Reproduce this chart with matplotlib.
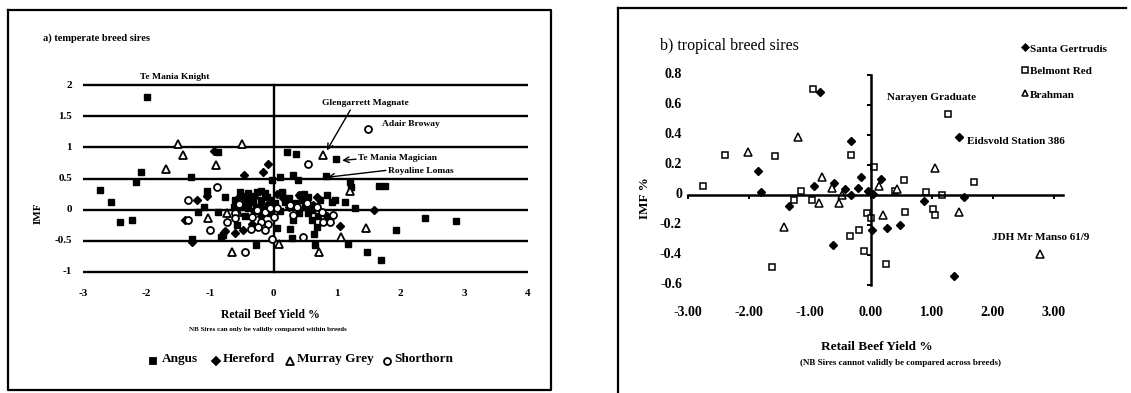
import matplotlib
matplotlib.use("Agg")
import matplotlib.pyplot as plt
import matplotlib.transforms as mtrans
from matplotlib.lines import Line2D

# ---------------- data: temperate breed sires ----------------
angus_x = [-2.00, -2.08, -2.17, -2.73, -2.56, -2.41, -2.23, -1.30, -0.87, -1.05,
           -0.77, -1.10, -1.19, -0.88, -1.29, -0.80, -0.82, -0.58, -0.28, -0.03,
           0.21, 0.36, 0.31, 0.39, 0.10, 0.14, 0.83, 0.98, 1.21, 1.22,
           1.66, 1.75, 1.13, 1.28, 1.93, 2.39, 2.87, 1.47, 1.70, 1.18,
           0.65, 0.63, 0.68, 0.26, 0.29, 0.60, 0.60, 0.73, 0.84, 0.97,
           0.92, 0.42, 0.55, 0.13, -0.53, -0.40, -0.26, -0.13, -0.45, -0.32,
           -0.19, -0.06, -0.53, -0.40, -0.28, -0.15, -0.05, 0.05, -0.45, 0.31,
           0.50, 0.35, -0.60, -0.35, 0.70, -0.50, -0.38, -0.22, -0.10, 0.02,
           0.18, 0.25, 0.45, 0.55, -0.30, -0.48, -0.20, 0.10, 0.40, 0.48,
           -0.62]
angus_y = [1.80, 0.61, 0.44, 0.32, 0.12, -0.20, -0.16, 0.53, 0.92, 0.30,
           0.21, 0.05, -0.04, -0.04, -0.47, -0.40, -0.44, -0.25, -0.57, 0.48,
           0.93, 0.89, 0.55, 0.47, 0.52, 0.28, 0.54, 0.81, 0.44, 0.37,
           0.38, 0.38, 0.12, 0.02, -0.32, -0.13, -0.18, -0.68, -0.80, -0.55,
           -0.57, -0.39, -0.28, -0.31, -0.45, -0.17, -0.01, 0.15, 0.23, 0.15,
           0.12, 0.23, 0.20, 0.26, 0.28, 0.26, 0.28, 0.26, 0.18, 0.12,
           0.15, 0.15, 0.04, 0.02, 0.05, 0.02, -0.05, -0.30, -0.10, -0.17,
           0.05, 0.10, 0.15, 0.22, -0.10, 0.08, 0.12, 0.05, 0.20, 0.10,
           0.12, 0.18, 0.15, -0.05, -0.02, 0.22, 0.30, -0.02, -0.05, 0.25,
           0.05]

hereford_x = [-0.93, -0.08, -0.16, -0.46, -1.21, -1.40, -1.04, -1.29, -0.76, -0.48,
              -0.34, -0.20, 1.04, 1.59, 0.40, -0.10, 0.25, -0.40, 0.62, 0.85,
              -0.60, -0.30, 0.15, -0.55, 0.05, 0.68]
hereford_y = [0.94, 0.74, 0.60, 0.55, 0.16, -0.17, 0.22, -0.52, -0.34, -0.33,
              -0.23, -0.10, -0.26, 0.00, 0.23, 0.08, 0.05, 0.10, 0.08, -0.10,
              -0.38, 0.20, 0.18, 0.20, 0.25, 0.20]

murray_x = [-1.50, -1.43, -1.69, -0.91, -0.50, 0.78, 1.20, -1.03, -0.74, -0.56,
            -0.66, 0.08, 0.72, 1.07, 1.46]
murray_y = [1.05, 0.87, 0.66, 0.71, 1.06, 0.87, 0.30, -0.14, -0.06, -0.04,
            -0.68, -0.55, -0.68, -0.44, -0.29]

shorthorn_x = [1.49, 0.55, -0.89, -1.34, -1.34, -1.00, -0.45, -0.03, 0.47, -0.35,
               -0.61, -0.74, -0.54, -0.26, -0.13, -0.06, 0.05, -0.19, -0.08, -0.13,
               0.00, 0.26, 0.37, 0.31, 0.52, 0.68, 0.76, 0.78, 0.89, 0.94,
               -0.34, -0.24, -0.61]
shorthorn_y = [1.30, 0.74, 0.37, 0.16, -0.17, -0.33, -0.68, -0.47, -0.44, -0.31,
               -0.06, -0.20, 0.09, -0.01, -0.04, 0.02, 0.02, -0.20, -0.23, -0.33,
               -0.12, 0.07, 0.04, -0.09, 0.10, 0.04, -0.04, -0.20, -0.20, -0.09,
               -0.12, -0.28, -0.13]

temperate_xticks = [-3, -2, -1, 0, 1, 2, 3, 4]
temperate_xlabels = ["-3", "-2", "-1", "0", "1", "2", "3", "4"]
temperate_yticks = [2, 1.5, 1, 0.5, 0, -0.5, -1]
temperate_ylabels = ["2", "1.5", "1", "0.5", "0", "-0.5", "-1"]
temperate_breeds = ["Angus", "Hereford", "Murray Grey", "Shorthorn"]

# ---------------- data: tropical breed sires ----------------
santa_x = [-0.84, -1.86, -1.81, -1.34, -0.93, -0.61, -0.43, -0.33, -0.32, -0.21,
           -0.16, -0.04, 0.04, 0.16, -0.63, 0.01, 0.27, 0.48, 0.87, 1.45,
           1.52, 1.37]
santa_y = [0.69, 0.16, 0.02, -0.07, 0.06, 0.08, 0.04, 0.36, 0.00, 0.05,
           0.12, 0.03, 0.01, 0.11, -0.33, -0.23, -0.22, -0.20, -0.04, 0.39,
           -0.01, -0.54]

belmont_x = [-2.75, -2.40, -1.57, -0.95, -1.14, -1.26, -0.97, -1.63, -0.33, -0.34,
             -0.19, -0.11, -0.06, 0.00, 0.05, 0.25, 0.55, 0.39, 0.56, 0.90,
             1.02, 1.05, 1.16, 1.27, 1.69]
belmont_y = [0.06, 0.27, 0.26, 0.71, 0.03, -0.03, -0.03, -0.48, 0.27, -0.27,
             -0.23, -0.37, -0.12, -0.15, 0.19, -0.46, 0.10, 0.03, -0.11, 0.02,
             -0.09, -0.13, 0.00, 0.54, 0.09]

brahman_x = [-2.01, -1.20, -1.43, -0.85, -0.80, -0.64, -0.52, -0.48, 0.14, 0.20,
             0.43, 1.05, 1.45, 2.78]
brahman_y = [0.29, 0.39, -0.21, -0.05, 0.12, 0.05, -0.05, 0.00, 0.06, -0.13,
             0.04, 0.18, -0.11, -0.39]

tropical_xticks = [-3, -2, -1, 0, 1, 2, 3]
tropical_xlabels = ["-3.00", "-2.00", "-1.00", "0.00", "1.00", "2.00", "3.00"]
tropical_yticks = [0.8, 0.6, 0.4, 0.2, 0, -0.2, -0.4, -0.6]
tropical_ylabels = ["0.8", "0.6", "0.4", "0.2", "0", "-0.2", "-0.4", "-0.6"]
tropical_breeds = ["Santa Gertrudis", "Belmont Red", "Brahman"]

# ---------------- figure helpers ----------------
W, H, DPI = 1131, 393, 100
plt.rcParams['font.family'] = ["Liberation Serif", "DejaVu Serif"]
fig = plt.figure(figsize=(W / DPI, H / DPI), dpi=DPI)
fig.patch.set_facecolor("white")


def fx(px):
    return px / W


def fy(py):
    return 1 - py / H


def rect(x0, y0, x1, y1):
    return [fx(x0), fy(y1), (x1 - x0) / W, (y1 - y0) / H]


def fig_line(xs, ys, lw=1.4):
    fig.add_artist(Line2D([fx(v) for v in xs], [fy(v) for v in ys],
                          color="black", lw=lw, transform=fig.transFigure))


# panel frames
fig_line([8, 551, 551, 8, 8], [10, 10, 390, 390, 10], lw=1.6)
fig_line([618, 618], [8, 393], lw=1.6)
fig_line([618, 1126], [8, 8], lw=1.6)

# ---------------- a) temperate panel ----------------
axL = fig.add_axes(rect(83, 85, 527.5, 272))
axL.set_xlim(-3, 4)
axL.set_ylim(-1, 2)
axL.axis("off")
for yv in temperate_yticks:
    axL.plot([-3, 4], [yv, yv], color="black", lw=1.7, clip_on=False,
             solid_capstyle="butt")
axL.plot([0, 0], [-1, 2], color="black", lw=1.7, clip_on=False)

trL_y = mtrans.blended_transform_factory(fig.transFigure, axL.transData)
for yv, lab in zip(temperate_yticks, temperate_ylabels):
    axL.text(fx(72), yv, lab, transform=trL_y, ha="right", va="center",
             fontsize=8, fontweight="bold")
trL_x = mtrans.blended_transform_factory(axL.transData, fig.transFigure)
for xv, lab in zip(temperate_xticks, temperate_xlabels):
    axL.text(xv, fy(293), lab, transform=trL_x, ha="center", va="center",
             fontsize=8, fontweight="bold")

mk = dict(ls="none", clip_on=False, color="black")
axL.plot(angus_x, angus_y, marker="s", ms=5, mfc="black", mec="black", **mk)
axL.plot(hereford_x, hereford_y, marker="D", ms=4.4, mfc="black", mec="black", **mk)
axL.plot(murray_x, murray_y, marker="^", ms=6, mfc="white", mec="black", mew=1.3, **mk)
axL.plot(shorthorn_x, shorthorn_y, marker="o", ms=5, mfc="white", mec="black", mew=1.3, **mk)

ann = dict(fontsize=6.8, fontweight="bold", va="center")
fig.text(fx(140), fy(77), "Te Mania Knight", **ann)
fig.text(fx(322), fy(103), "Glengarrett Magnate", **ann)
fig.text(fx(382), fy(124), "Adair Broway", **ann)
fig.text(fx(358), fy(158), "Te Mania Magician", **ann)
fig.text(fx(388), fy(171), "Royaline Lomas", **ann)
arrow = dict(arrowstyle="->", color="black", lw=1.0, shrinkA=0, shrinkB=0)
axL.annotate("", xy=(0.84, 0.95), xytext=(1.21, 1.60), arrowprops=arrow)
axL.annotate("", xy=(1.08, 0.79), xytext=(1.30, 0.81), arrowprops=arrow)
axL.annotate("", xy=(0.85, 0.52), xytext=(1.77, 0.63), arrowprops=arrow)

fig.text(fx(43), fy(38), "a) temperate breed sires", fontsize=7.5,
         fontweight="bold", va="center")
fig.text(fx(38), fy(213), "IMF", rotation=90, fontsize=8, fontweight="bold",
         ha="center", va="center")
fig.text(fx(270), fy(315), "Retail Beef Yield %", fontsize=8.5,
         fontweight="bold", ha="center", va="center")
fig.text(fx(268), fy(330), "NB Sires can only be validly compared within breeds",
         fontsize=5, fontweight="bold", ha="center", va="center")

# legend row under the temperate panel
leg_items = [("s", 4.2, "black", 153, 162),
             ("D", 3.8, "black", 216, 223),
             ("^", 6, "white", 290, 297),
             ("o", 5, "white", 387, 394)]
for (m, s, fc, mxp, txp), name in zip(leg_items, temperate_breeds):
    fig.add_artist(Line2D([fx(mxp)], [fy(361)], marker=m, ms=s, mfc=fc,
                          mec="black", mew=1.3, ls="none",
                          transform=fig.transFigure))
    fig.text(fx(txp), fy(359), name, fontsize=9.5, fontweight="bold",
             va="center")

# ---------------- b) tropical panel ----------------
axR = fig.add_axes(rect(688, 75, 1063, 285))
axR.set_xlim(-3, 3.15)
axR.set_ylim(-0.6, 0.8)
for side in ("top", "right"):
    axR.spines[side].set_visible(False)
axR.spines["left"].set_position(("data", 0))
axR.spines["bottom"].set_position(("data", 0))
axR.spines["left"].set_linewidth(1.8)
axR.spines["bottom"].set_linewidth(1.8)
axR.set_xticks(tropical_xticks)
axR.set_yticks(tropical_yticks)
axR.tick_params(labelleft=False, labelbottom=False, direction="out",
                length=3, width=1.4)
axR.patch.set_alpha(0)

trR_y = mtrans.blended_transform_factory(fig.transFigure, axR.transData)
for yv, lab in zip(tropical_yticks, tropical_ylabels):
    axR.text(fx(682), yv, lab, transform=trR_y, ha="right", va="center",
             fontsize=10, fontweight="bold")
trR_x = mtrans.blended_transform_factory(axR.transData, fig.transFigure)
for xv, lab in zip(tropical_xticks, tropical_xlabels):
    axR.text(xv, fy(312), lab, transform=trR_x, ha="center", va="center",
             fontsize=10, fontweight="bold")

axR.plot(santa_x, santa_y, marker="D", ms=4, mfc="black", mec="black", **mk)
axR.plot(belmont_x, belmont_y, marker="s", ms=4.3, mfc="white", mec="black", mew=1.1, **mk)
axR.plot(brahman_x, brahman_y, marker="^", ms=5.5, mfc="white", mec="black", mew=1.1, **mk)

annR = dict(fontsize=8, fontweight="bold", va="center")
fig.text(fx(887), fy(97), "Narayen Graduate", **annR)
fig.text(fx(967), fy(142), "Eidsvold Station 386", **annR)
fig.text(fx(992), fy(237), "JDH Mr Manso 61/9", **annR)

fig.text(fx(660), fy(46), "b) tropical breed sires", fontsize=11.5, va="center")
fig.text(fx(645), fy(198), "IMF %", rotation=90, fontsize=9.5,
         fontweight="bold", ha="center", va="center")
fig.text(fx(877), fy(347), "Retail Beef Yield %", fontsize=9.5,
         fontweight="bold", ha="center", va="center")
fig.text(fx(900), fy(363), "(NB Sires cannot validly be compared across breeds)",
         fontsize=6.5, fontweight="bold", ha="center", va="center")

legR = [("D", 3.5, "black", 49), ("s", 4, "white", 72), ("^", 5, "white", 95)]
for (m, s, fc, yp), name in zip(legR, tropical_breeds):
    fig.add_artist(Line2D([fx(1025)], [fy(yp - 2)], marker=m, ms=s, mfc=fc,
                          mec="black", mew=1.1, ls="none",
                          transform=fig.transFigure))
    fig.text(fx(1030), fy(yp), name, fontsize=8, fontweight="bold",
             va="center")

fig.savefig("out.png", dpi=DPI)
